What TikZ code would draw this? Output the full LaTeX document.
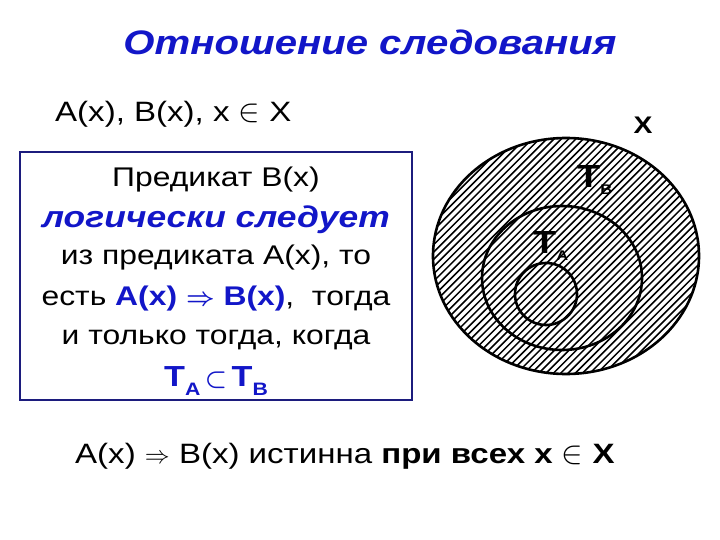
\documentclass[tikz,border=0pt]{standalone}
\usepackage{fontspec}
\setmainfont[FakeStretch=1.18]{Liberation Sans}
\usetikzlibrary{positioning}
\definecolor{titleblue}{RGB}{18,22,200}
\definecolor{boxblue}{RGB}{28,28,125}
% T with a lowered index letter
\newcommand{\Tidx}[4]{{\fontsize{#1}{#1}\selectfont\bfseries T}\raisebox{-#4}{\fontsize{#2}{#2}\selectfont\bfseries #3}}
\newcommand{\elemof}{\scalebox{1.3}{$\in$}}

\begin{document}
\begin{tikzpicture}[x=1pt,y=-1pt,
	plain/.style={font=\fontsize{27}{30}\selectfont, inner sep=0pt},
	hatch/.style={line width=1.5pt},
	ring/.style={line width=2.6pt}]
\useasboundingbox (0,0) rectangle (720,540);
% title and universe
\node[font=\fontsize{34}{40}\selectfont\bfseries\itshape, text=titleblue, anchor=base, inner sep=0pt] (title) at (370,55) {Отношение следования};
\node[plain, font=\fontsize{28}{32}\selectfont, anchor=base west] (preds) at (55,122) {A(x), B(x), x \elemof\ X};
\node[font=\fontsize{24}{28}\selectfont\bfseries, anchor=base, inner sep=0pt] (univ) at (643,134) {X};
% the box
\node[draw=boxblue, line width=1.5pt, minimum width=392pt, minimum height=248pt, inner sep=0pt] (frame) at (216,276) {};
\node[plain, anchor=base] (l1) at (216,187) {Предикат B(x)};
\node[plain, font=\fontsize{30}{36}\selectfont\bfseries\itshape, text=titleblue, anchor=base] (l2) at (216,228) {логически следует};
\node[plain, anchor=base] (l3) at (216,264) {из предиката A(x), то};
\node[plain, anchor=base] (l4) at (216,305) {есть \textcolor{titleblue}{\textbf{A(x) {\boldmath$\Rightarrow$} B(x)}},\ \ тогда};
\node[plain, anchor=base] (l5) at (216,344) {и только тогда, когда};
\node[plain, anchor=base, text=titleblue] (l6) at (216,386) {\Tidx{29}{18}{A}{9pt}\,{\boldmath$\subset$}\,\Tidx{29}{18}{B}{9pt}};
% the sets
\begin{scope}
	\clip (566,256) ellipse [x radius=133pt, y radius=118pt];
	\foreach \k in {200,207.3,...,660}
		\draw[hatch] (\k,420) -- ++(330,-330);
\end{scope}
\draw[ring] (566,256) ellipse [x radius=133pt, y radius=118pt];
\draw[ring] (562,278) ellipse [x radius=80pt, y radius=72pt];
\draw[ring] (546,294) circle [radius=31pt];
\node[anchor=base west, inner sep=0pt] (tb) at (577,188) {\Tidx{32}{14}{B}{7pt}};
\node[anchor=base west, inner sep=0pt] (ta) at (533,253) {\Tidx{32}{14}{A}{7pt}};
% conclusion
\node[plain, font=\fontsize{28}{32}\selectfont, anchor=base west] (concl) at (75,463) {A(x) $\Rightarrow$ B(x) истинна \textbf{при всех x \elemof\ X}};
\end{tikzpicture}
\end{document}
